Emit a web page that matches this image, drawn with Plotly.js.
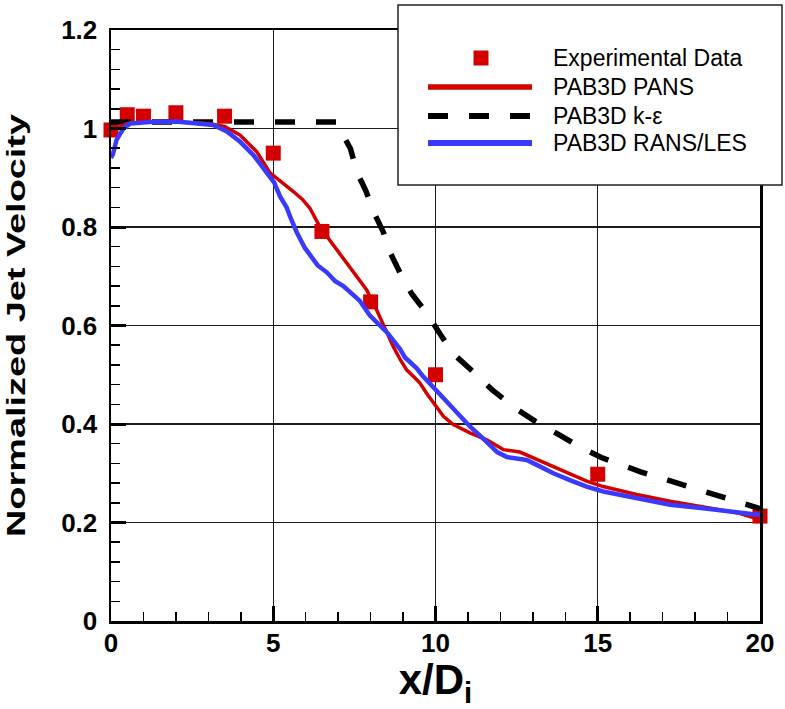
<!DOCTYPE html>
<html>
<head>
<meta charset="utf-8">
<script src="https://cdn.plot.ly/plotly-3.0.1.min.js"></script>
<style>html,body{margin:0;padding:0;background:#fff;}#chart{width:785px;height:709px;}</style>
</head>
<body>
<div id="chart"></div>
<script>
// Experimental data (squares)
var expX = [0, 0.5, 1, 2, 3.5, 5, 6.5, 8, 10, 15, 20];
var expY = [0.997, 1.028, 1.025, 1.032, 1.025, 0.95, 0.791, 0.648, 0.5, 0.298, 0.213];

// PAB3D PANS (red)
var pansX = [0, 0.1, 0.25, 0.5, 1, 2, 3, 3.5, 3.97, 4.49, 4.9, 5.1, 5.31, 5.62, 5.9, 6.13, 6.44, 6.85, 7.26, 7.67, 7.88, 8.19, 8.5, 8.7, 8.92, 9.11, 9.33, 9.52, 9.73, 10.0, 10.25, 10.55, 11.06, 11.58, 12.09, 12.6, 13.12, 13.63, 14.14, 14.66, 15.17, 16.2, 17.23, 18.25, 19.28, 20];
var pansY = [0.985, 0.995, 1.003, 1.01, 1.013, 1.013, 1.01, 1.004, 0.987, 0.953, 0.91, 0.9, 0.889, 0.872, 0.856, 0.838, 0.80, 0.763, 0.726, 0.69, 0.672, 0.631, 0.585, 0.557, 0.53, 0.51, 0.496, 0.483, 0.462, 0.437, 0.415, 0.399, 0.382, 0.368, 0.348, 0.343, 0.328, 0.313, 0.300, 0.284, 0.273, 0.257, 0.243, 0.232, 0.220, 0.206];

// PAB3D k-epsilon (black dashed)
var keX = [0, 6.95, 7.04, 7.38, 7.58, 7.85, 8.12, 8.39, 8.59, 8.92, 9.26, 9.73, 10.13, 10.54, 11.21, 11.75, 12.55, 13.09, 13.76, 14.44, 15.11, 16.32, 17.8, 19.27, 20];
var keY = [1.013, 1.013, 1.0, 0.959, 0.911, 0.874, 0.827, 0.79, 0.75, 0.705, 0.665, 0.625, 0.584, 0.543, 0.503, 0.469, 0.428, 0.405, 0.38, 0.354, 0.332, 0.303, 0.273, 0.243, 0.228];

// PAB3D RANS/LES (blue)
var rlX = [0, 0.06, 0.17, 0.38, 0.59, 1.2, 2, 3.15, 3.57, 3.98, 4.39, 4.69, 4.9, 5.03, 5.21, 5.41, 5.52, 5.72, 5.97, 6.13, 6.37, 6.65, 6.91, 7.16, 7.45, 7.67, 7.98, 8.3, 8.52, 8.91, 9.06, 9.42, 9.6, 10.04, 10.55, 11.06, 11.48, 11.9, 12.2, 12.5, 12.81, 13.12, 13.63, 14.14, 14.66, 15.17, 16.2, 17.23, 18.25, 19.28, 20];
var rlY = [0.94, 0.948, 0.977, 1.0, 1.01, 1.013, 1.014, 1.007, 0.994, 0.973, 0.946, 0.919, 0.899, 0.89, 0.862, 0.84, 0.821, 0.79, 0.758, 0.745, 0.722, 0.708, 0.69, 0.68, 0.662, 0.65, 0.62, 0.6, 0.585, 0.552, 0.535, 0.513, 0.498, 0.467, 0.431, 0.395, 0.37, 0.343, 0.333, 0.331, 0.327, 0.317, 0.300, 0.286, 0.273, 0.263, 0.249, 0.236, 0.229, 0.222, 0.215];

var legendNames = ["Experimental Data", "PAB3D PANS", "PAB3D k-\u03b5", "PAB3D RANS/LES"];

var RED = "#d40000", BLUE = "#3a3aff", BLACK = "#000000";
var FONT = "Liberation Sans, Arial, Helvetica, sans-serif";

var traces = [
  {x: expX, y: expY, mode: "markers", type: "scatter", name: legendNames[0], cliponaxis: false,
   marker: {symbol: "square", size: 15, color: RED, line: {width: 0}}},
  {x: keX, y: keY, mode: "lines", type: "scatter", name: legendNames[2],
   line: {color: BLACK, width: 5.5, dash: "20px,21px"}},
  {x: pansX, y: pansY, mode: "lines", type: "scatter", name: legendNames[1],
   line: {color: RED, width: 3.5}},
  {x: rlX, y: rlY, mode: "lines", type: "scatter", name: legendNames[3],
   line: {color: BLUE, width: 4.5}}
];

// legend drawn in paper coordinates
function px2x(p){ return (p - 111) / 649; }
function py2y(p){ return (621 - p) / 591; }
var legRows = [58, 87, 116, 143];
var shapes = [
  {type: "rect", xref: "paper", yref: "paper", x0: px2x(398), x1: px2x(782), y0: py2y(185), y1: py2y(5),
   fillcolor: "#ffffff", line: {color: "#222", width: 1.5}, layer: "above"},
  {type: "rect", xref: "paper", yref: "paper", x0: px2x(473.5), x1: px2x(488.5), y0: py2y(legRows[0] + 7.5), y1: py2y(legRows[0] - 7.5),
   fillcolor: RED, line: {width: 0}, layer: "above"},
  {type: "line", xref: "paper", yref: "paper", x0: px2x(428), x1: px2x(532), y0: py2y(legRows[1]), y1: py2y(legRows[1]),
   line: {color: RED, width: 5.5}, layer: "above"},
  {type: "line", xref: "paper", yref: "paper", x0: px2x(428), x1: px2x(532), y0: py2y(legRows[2]), y1: py2y(legRows[2]),
   line: {color: BLACK, width: 6, dash: "20px,21px"}, layer: "above"},
  {type: "line", xref: "paper", yref: "paper", x0: px2x(428), x1: px2x(532), y0: py2y(legRows[3]), y1: py2y(legRows[3]),
   line: {color: BLUE, width: 6}, layer: "above"}
];
var annotations = legendNames.map(function(t, i){
  return {xref: "paper", yref: "paper", x: px2x(551), y: py2y(legRows[i]), xanchor: "left", yanchor: "middle",
          text: t, showarrow: false, font: {family: FONT, size: 23, color: BLACK}};
});

var axisCommon = {
  ticks: "inside", ticklen: 15, tickwidth: 3, tickcolor: BLACK,
  showline: true, linewidth: 2.5, linecolor: BLACK, mirror: true,
  showgrid: true, gridcolor: "#1a1a1a", gridwidth: 1.2, zeroline: false,
  tickfont: {family: FONT, size: 26, color: BLACK, weight: "bold"}
};

var layout = {
  width: 785, height: 709,
  margin: {l: 111, r: 25, t: 30, b: 88},
  paper_bgcolor: "#ffffff", plot_bgcolor: "#ffffff",
  showlegend: false,
  xaxis: Object.assign({}, axisCommon, {
    range: [0, 20], tick0: 0, dtick: 5, ticklabelstandoff: -3,
    minor: {dtick: 1, ticks: "inside", ticklen: 9, tickwidth: 1.5, tickcolor: BLACK, showgrid: false},
    title: {text: "x/D<sub>i</sub>", font: {family: FONT, size: 42, color: BLACK, weight: "bold"}, standoff: 3}
  }),
  yaxis: Object.assign({}, axisCommon, {
    range: [0, 1.2], tick0: 0, dtick: 0.2, ticklabelstandoff: 6,
    minor: {dtick: 0.04, ticks: "inside", ticklen: 9, tickwidth: 1.5, tickcolor: BLACK, showgrid: false},
    title: {text: "Normalized Jet Velocity", font: {family: FONT, size: 25, color: BLACK, weight: "bold"}, standoff: 29}
  }),
  shapes: shapes,
  annotations: annotations
};

Plotly.newPlot("chart", traces, layout, {displayModeBar: false, staticPlot: true}).then(function(gd){
  var t = gd.querySelector(".ytitle");
  if (t) { t.setAttribute("textLength", "423"); t.setAttribute("lengthAdjust", "spacingAndGlyphs"); }
});
</script>
</body>
</html>
